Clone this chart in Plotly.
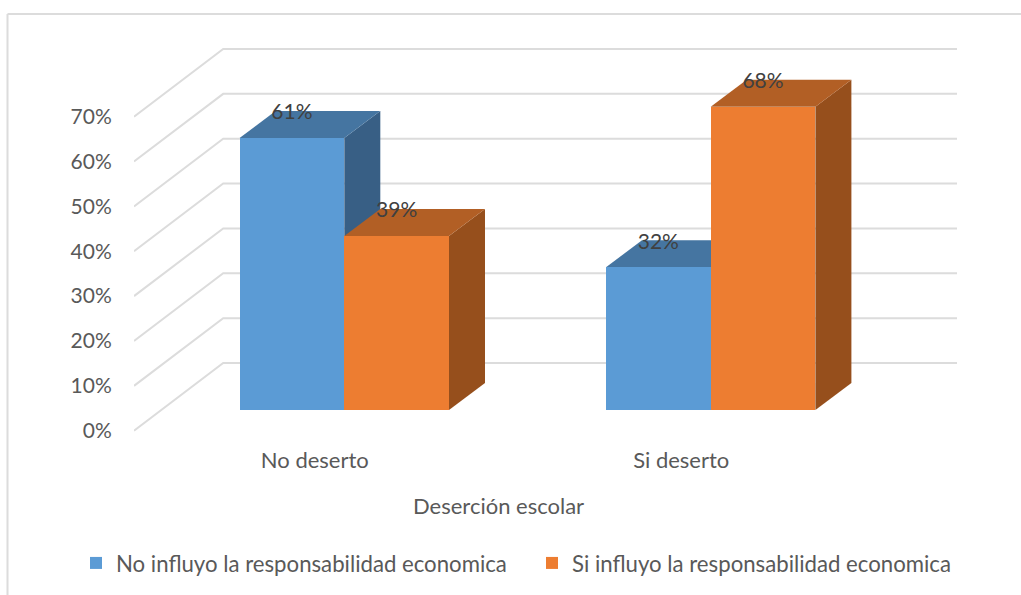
import plotly.graph_objects as go

# ---- data ----
categories = ["No deserto", "Si deserto"]
series_names = ["No influyo la responsabilidad economica", "Si influyo la responsabilidad economica"]
no_influyo = [61, 32]
si_influyo = [39, 68]
value_ticks = [0, 10, 20, 30, 40, 50, 60, 70]
axis_title = "Deserción escolar"

# ---- look ----
W, H = 1021, 595
FONT = "Lato"
TXT = "#595959"
LBL = "#404040"
GRID = "#DCDCDC"
FRONT = ["#5B9BD5", "#ED7D31"]
TOP = ["#4575A1", "#B25F25"]
SIDE = ["#385F85", "#964F1C"]
SIZE_TEXT = 22
SIZE_NUM = 21

PL, PR, PT, PB = 134, 1021, 0, 440      # plot rectangle in px
GROUP_PX = 366.4
GROUP0_PX = 344.3
PX_PER_PCT = 4.486        # wall scale
BAR_PX_PER_PCT = 4.46     # front plane scale
ZERO_WALL_PX = 430.7
ZERO_BAR_PX = 410.0

def ux(px):           # horizontal distance in px -> x units
    return px / GROUP_PX

BAR_W = ux(104.7)
BAR_DX = ux(36)
BAR_DY = 27 / BAR_PX_PER_PCT
LABEL_DROP = 3 / BAR_PX_PER_PCT
WALL_DX = ux(89.2)
WALL_DY = (ZERO_WALL_PX - 363) / PX_PER_PCT
WALL_X = (PL - GROUP0_PX) / GROUP_PX
GRID_END = (957 - GROUP0_PX) / GROUP_PX
LABEL_SHIFT = ux(-29.5)

xr = [(PL - GROUP0_PX) / GROUP_PX, (PR - GROUP0_PX) / GROUP_PX]
yr_wall = [(ZERO_WALL_PX - PB) / PX_PER_PCT, (ZERO_WALL_PX - PT) / PX_PER_PCT]
yr_bar = [(ZERO_BAR_PX - PB) / BAR_PX_PER_PCT, (ZERO_BAR_PX - PT) / BAR_PX_PER_PCT]

fig = go.Figure()

# walls: diagonal plus back gridline per tick, on the tick axis
for v in value_ticks:
    fig.add_trace(go.Scatter(
        x=[WALL_X, WALL_X + WALL_DX, GRID_END],
        y=[v, v + WALL_DY, v + WALL_DY],
        mode="lines", line=dict(color=GRID, width=2),
        hoverinfo="skip", showlegend=False, yaxis="y"))

series = [no_influyo, si_influyo]
# side and top faces, blue first so orange overlaps it
for s, values in enumerate(series):
    for g, v in enumerate(values):
        left = g + (s - 1) * BAR_W
        right = left + BAR_W
        fig.add_trace(go.Scatter(
            x=[right, right + BAR_DX, right + BAR_DX, right, right],
            y=[0, BAR_DY, v + BAR_DY, v, 0],
            mode="lines", fill="toself", fillcolor=SIDE[s], line=dict(width=0),
            hoverinfo="skip", showlegend=False, yaxis="y2"))
        fig.add_trace(go.Scatter(
            x=[left, left + BAR_DX, right + BAR_DX, right, left],
            y=[v, v + BAR_DY, v + BAR_DY, v, v],
            mode="lines", fill="toself", fillcolor=TOP[s], line=dict(width=0),
            hoverinfo="skip", showlegend=False, yaxis="y2"))

# front faces
for s, values in enumerate(series):
    fig.add_trace(go.Bar(
        x=[g + (s - 0.5) * BAR_W for g in range(len(values))],
        y=values, width=BAR_W, name=series_names[s],
        marker=dict(color=FRONT[s], line=dict(width=0)), yaxis="y3"))

# data labels
for s, values in enumerate(series):
    fig.add_trace(go.Scatter(
        x=[g + (s - 0.5) * BAR_W for g in range(len(values))],
        y=[v + BAR_DY - LABEL_DROP for v in values],
        text=[f"{v}%" for v in values], mode="text", textposition="middle center",
        textfont=dict(family=FONT, size=SIZE_NUM, color=LBL),
        hoverinfo="skip", showlegend=False, yaxis="y3", cliponaxis=False))

def paper_x(px):
    return (px - PL) / (PR - PL)

def paper_y(px):
    return (PB - px) / (PB - PT)

shapes = [
    dict(type="line", xref="paper", yref="paper", x0=paper_x(7.5), x1=paper_x(7.5),
         y0=paper_y(14), y1=paper_y(H), line=dict(color=GRID, width=2)),
    dict(type="line", xref="paper", yref="paper", x0=paper_x(7.5), x1=paper_x(W),
         y0=paper_y(14), y1=paper_y(14), line=dict(color=GRID, width=2)),
]

fig.update_layout(
    width=W, height=H, autosize=False,
    margin=dict(l=PL, r=W - PR, t=PT, b=H - PB, autoexpand=False),
    paper_bgcolor="white", plot_bgcolor="white",
    barmode="overlay", bargap=0,
    font=dict(family=FONT, size=SIZE_TEXT, color=TXT),
    hovermode=False,
    shapes=shapes,
    xaxis=dict(range=xr, showgrid=False, zeroline=False, showline=False,
               tickmode="array", tickvals=[g + LABEL_SHIFT for g in range(len(categories))],
               ticktext=categories, ticks="outside", ticklen=1, tickcolor="rgba(0,0,0,0)",
               tickfont=dict(family=FONT, size=SIZE_TEXT, color=TXT)),
    yaxis=dict(range=yr_wall, showgrid=False, zeroline=False, showline=False,
               tickmode="array", tickvals=value_ticks, ticktext=[f"{v}%" for v in value_ticks],
               ticks="outside", ticklen=17, tickcolor="rgba(0,0,0,0)",
               tickfont=dict(family=FONT, size=SIZE_NUM, color=TXT)),
    yaxis2=dict(range=yr_bar, overlaying="y", visible=False),
    yaxis3=dict(range=yr_bar, overlaying="y", visible=False),
    legend=dict(orientation="h", x=paper_x(76), xanchor="left", y=paper_y(563), yanchor="middle",
                font=dict(family=FONT, size=22.2, color=TXT), bgcolor="rgba(0,0,0,0)",
                traceorder="normal", entrywidthmode="pixels", entrywidth=411),
    annotations=[dict(text=axis_title, xref="paper", yref="paper", x=paper_x(498), y=paper_y(506),
                      xanchor="center", yanchor="middle", showarrow=False,
                      font=dict(family=FONT, size=SIZE_TEXT, color=TXT))],
)

fig.write_html("out.html", config=dict(displayModeBar=False),
               post_script="document.body.style.margin='0';document.documentElement.style.overflow='hidden';")
